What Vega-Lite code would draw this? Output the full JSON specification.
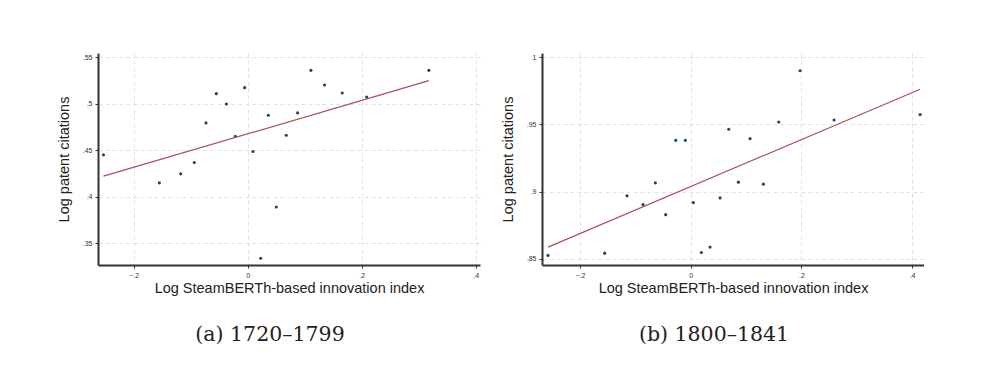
{
  "$schema": "https://vega.github.io/schema/vega-lite/v6.json",
  "background": "white",
  "padding": {"left": 56, "top": 53, "right": 0, "bottom": 0},
  "spacing": 20,
  "datasets": {
    "a_pts": [
      {"x": -0.253, "y": 0.445}, {"x": -0.155, "y": 0.415}, {"x": -0.1175, "y": 0.4246}, {"x": -0.0936, "y": 0.4368},
      {"x": -0.0731, "y": 0.4793}, {"x": -0.055, "y": 0.5107}, {"x": -0.0374, "y": 0.4996}, {"x": -0.0216, "y": 0.465},
      {"x": -0.0053, "y": 0.5171}, {"x": 0.0094, "y": 0.4486}, {"x": 0.0228, "y": 0.334}, {"x": 0.0363, "y": 0.4875},
      {"x": 0.0503, "y": 0.389}, {"x": 0.0678, "y": 0.466}, {"x": 0.0877, "y": 0.49}, {"x": 0.111, "y": 0.5357},
      {"x": 0.135, "y": 0.52}, {"x": 0.166, "y": 0.5114}, {"x": 0.2088, "y": 0.5071}, {"x": 0.318, "y": 0.5357}
    ],
    "a_fit": [{"x": -0.253, "y": 0.4221}, {"x": 0.318, "y": 0.5246}],
    "b_pts": [
      {"x": -0.2578, "y": 0.8525}, {"x": -0.1554, "y": 0.8542}, {"x": -0.1151, "y": 0.8968}, {"x": -0.0861, "y": 0.8903},
      {"x": -0.0639, "y": 0.9065}, {"x": -0.0452, "y": 0.8828}, {"x": -0.0271, "y": 0.9381}, {"x": -0.0096, "y": 0.9381},
      {"x": 0.0048, "y": 0.8918}, {"x": 0.0193, "y": 0.8547}, {"x": 0.0349, "y": 0.8587}, {"x": 0.053, "y": 0.8953},
      {"x": 0.0687, "y": 0.9463}, {"x": 0.0861, "y": 0.907}, {"x": 0.1072, "y": 0.9393}, {"x": 0.1313, "y": 0.9055},
      {"x": 0.159, "y": 0.9517}, {"x": 0.1976, "y": 0.9898}, {"x": 0.259, "y": 0.9532}, {"x": 0.4145, "y": 0.9572}
    ],
    "b_fit": [{"x": -0.2578, "y": 0.8587}, {"x": 0.4145, "y": 0.9761}]
  },
  "config": {
    "view": {"stroke": null},
    "axis": {
      "domainColor": "#333333",
      "domainWidth": 2,
      "tickColor": "#333333",
      "tickSize": 3,
      "tickWidth": 1,
      "labelFont": "Liberation Sans",
      "labelFontSize": 7,
      "labelColor": "#333333",
      "labelPadding": 3,
      "titleFont": "Liberation Sans",
      "titleFontSize": 14.5,
      "titleFontWeight": "normal",
      "titleColor": "#222222",
      "gridColor": "#e2e2e2",
      "gridDash": [4, 3],
      "gridWidth": 1,
      "labelExpr": "replace(format(datum.value, '.2~f'), '0.', '.')"
    },
    "axisX": {"titlePadding": 3},
    "axisY": {"labelAngle": 0, "titlePadding": 11},
    "title": {"font": "DejaVu Serif", "fontSize": 20.5, "fontWeight": "normal", "color": "#222222", "orient": "bottom", "baseline": "top", "offset": 30, "dx": -19}
  },
  "hconcat": [
    {
      "width": 382, "height": 212,
      "title": {"text": "(a) 1720–1799"},
      "layer": [
        {
          "data": {"name": "a_pts"},
          "mark": {"type": "point", "filled": true, "size": 10, "color": "#1a476f", "opacity": 1},
          "encoding": {
            "x": {"field": "x", "type": "quantitative", "title": "Log SteamBERTh-based innovation index",
                  "scale": {"domain": [-0.2626, 0.4077], "nice": false, "zero": false},
                  "axis": {"values": [-0.2, 0, 0.2, 0.4]}},
            "y": {"field": "y", "type": "quantitative", "title": "Log patent citations",
                  "scale": {"domain": [0.3268, 0.5543], "nice": false, "zero": false},
                  "axis": {"values": [0.35, 0.4, 0.45, 0.5, 0.55]}}
          }
        },
        {
          "data": {"name": "a_fit"},
          "mark": {"type": "line", "color": "#ad5055", "strokeWidth": 1.2},
          "encoding": {
            "x": {"field": "x", "type": "quantitative"},
            "y": {"field": "y", "type": "quantitative"}
          }
        }
      ]
    },
    {
      "width": 382, "height": 212,
      "title": {"text": "(b) 1800–1841"},
      "layer": [
        {
          "data": {"name": "b_pts"},
          "mark": {"type": "point", "filled": true, "size": 10, "color": "#1a476f", "opacity": 1},
          "encoding": {
            "x": {"field": "x", "type": "quantitative", "title": "Log SteamBERTh-based innovation index",
                  "scale": {"domain": [-0.2687, 0.4215], "nice": false, "zero": false},
                  "axis": {"values": [-0.2, 0, 0.2, 0.4]}},
            "y": {"field": "y", "type": "quantitative", "title": "Log patent citations",
                  "scale": {"domain": [0.8454, 1.003], "nice": false, "zero": false},
                  "axis": {"values": [0.85, 0.9, 0.95, 1]}}
          }
        },
        {
          "data": {"name": "b_fit"},
          "mark": {"type": "line", "color": "#ad5055", "strokeWidth": 1.2},
          "encoding": {
            "x": {"field": "x", "type": "quantitative"},
            "y": {"field": "y", "type": "quantitative"}
          }
        }
      ]
    }
  ]
}
